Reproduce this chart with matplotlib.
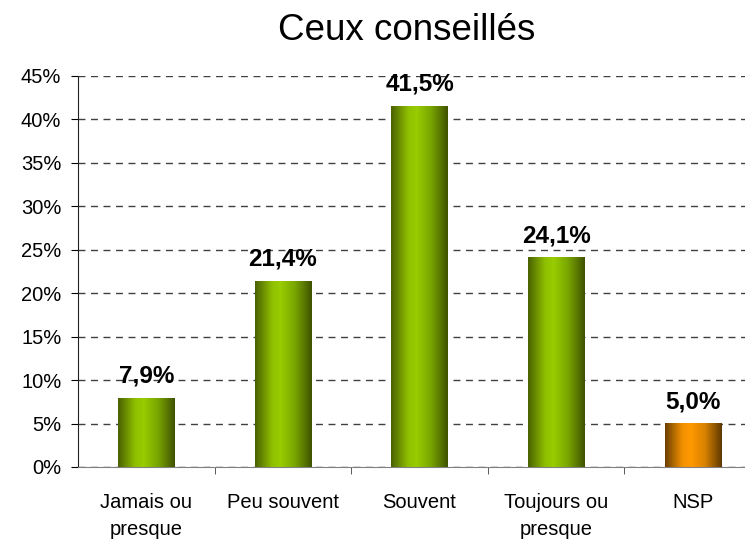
import numpy as np
import matplotlib
matplotlib.use('Agg')
import matplotlib.pyplot as plt
from matplotlib.colors import LinearSegmentedColormap

plt.rcParams['font.family'] = ['Liberation Sans', 'DejaVu Sans']

categories = ['Jamais ou\npresque', 'Peu souvent', 'Souvent', 'Toujours ou\npresque', 'NSP']
values = [7.9, 21.4, 41.5, 24.1, 5.0]
labels = ['7,9%', '21,4%', '41,5%', '24,1%', '5,0%']
yticks = [0, 5, 10, 15, 20, 25, 30, 35, 40, 45]

green = LinearSegmentedColormap.from_list(
    'g', [(0, '#4a6000'), (0.3, '#8fc000'), (0.45, '#99cc00'), (0.7, '#7aa600'), (1, '#3f5200')])
orange = LinearSegmentedColormap.from_list(
    'o', [(0, '#6b3f00'), (0.3, '#f09000'), (0.45, '#ff9900'), (0.7, '#d98200'), (1, '#5e3800')])
cmaps = [green, green, green, green, orange]

fig = plt.figure(figsize=(7.45, 5.39), dpi=100)
ax = fig.add_axes([78 / 745, 72 / 539, (761 - 78) / 745, (467 - 76) / 539])

x = np.arange(len(categories))
width = 0.41
grad = np.linspace(0, 1, 256).reshape(1, -1)
for xi, v, cm in zip(x, values, cmaps):
    ax.imshow(grad, cmap=cm, extent=(xi - width / 2, xi + width / 2, 0, v),
              aspect='auto', zorder=3, interpolation='bilinear')

for xi, v, lab in zip(x, values, labels):
    ax.text(xi, v + 1.2, lab, ha='center', va='bottom', fontsize=17.5,
            fontweight='bold', zorder=4)

ax.set_xlim(-0.5, len(categories) - 0.5)
ax.set_ylim(0, 45)
ax.set_yticks(yticks)
ax.set_yticklabels([f'{t}%' for t in yticks], fontsize=14.5)
ax.yaxis.grid(True, linestyle=(0, (5, 4)), color='#404040', linewidth=1)
ax.set_axisbelow(True)

ax.set_xticks(x)
ax.set_xticklabels(categories, fontsize=14.5, linespacing=1.5)
ax.set_xticks(np.arange(0.5, len(categories) - 0.5), minor=True)
ax.tick_params(axis='x', which='major', length=0, pad=19)
ax.tick_params(axis='x', which='minor', length=5, direction='out', color='#404040')
ax.tick_params(axis='y', length=5, direction='out', pad=7)

for s in ['top', 'right']:
    ax.spines[s].set_visible(False)
ax.spines['left'].set_color('#202020')
ax.spines['bottom'].set_color('#808080')

fig.text(407 / 745, 1 - 30 / 539, 'Ceux conseillés', ha='center', va='center', fontsize=26.5)

fig.savefig('out.png', dpi=100)
